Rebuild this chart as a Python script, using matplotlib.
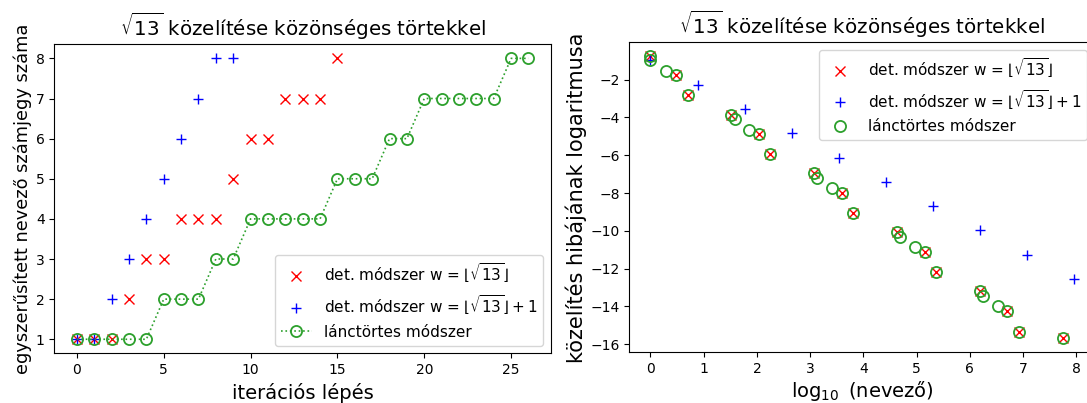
import matplotlib
matplotlib.use("Agg")
import matplotlib.pyplot as plt

# ---- left panel data: digits of simplified denominator per iteration ----
red_digits = [1, 1, 1, 2, 3, 3, 4, 4, 4, 5, 6, 6, 7, 7, 7, 8]
blue_digits = [1, 1, 2, 3, 4, 5, 6, 7, 8, 8]
green_digits = [1, 1, 1, 1, 1, 2, 2, 2, 3, 3, 4, 4, 4, 4, 4, 5, 5, 5, 6, 6,
                7, 7, 7, 7, 7, 8, 8]

# ---- right panel data: log10(denominator) vs log10(relative error) ----
red_logq = [0, 0.477, 0.699, 1.519, 2.037, 2.255, 3.075, 3.594, 3.812, 4.632,
            5.151, 5.369, 6.188, 6.707, 6.925, 7.745]
red_logerr = [-0.775, -1.771, -2.813, -3.850, -4.888, -5.926, -6.963, -8.001,
              -9.039, -10.077, -11.114, -12.152, -13.190, -14.228, -15.35, -15.68]
blue_logq = [0, 0.903, 1.785, 2.667, 3.548, 4.429, 5.310, 6.191, 7.072, 7.953]
blue_logerr = [-0.961, -2.268, -3.554, -4.840, -6.125, -7.410, -8.695, -9.980,
               -11.265, -12.550]
green_logq = [0, 0, 0.301, 0.477, 0.699, 1.519, 1.580, 1.851, 2.037, 2.255,
              3.075, 3.136, 3.408, 3.594, 3.812, 4.632, 4.693, 4.965, 5.151,
              5.369, 6.188, 6.250, 6.521, 6.707, 6.925, 7.745]
green_logerr = [-0.775, -0.961, -1.534, -1.771, -2.813, -3.850, -4.097, -4.640,
                -4.888, -5.926, -6.963, -7.211, -7.754, -8.001, -9.039, -10.077,
                -10.324, -10.867, -11.114, -12.152, -13.190, -13.437, -13.980,
                -14.228, -15.35, -15.68]

title = r"$\sqrt{13}$ közelítése közönséges törtekkel"
lab_red = r"det. módszer w = $\lfloor\sqrt{13}\rfloor$"
lab_blue = r"det. módszer w = $\lfloor\sqrt{13}\rfloor + 1$"
lab_green = "lánctörtes módszer"

fig = plt.figure(figsize=(10.87, 4.03), dpi=100)
ax1 = fig.add_axes([0.04996, 0.1233, 0.457, 0.7667])
ax2 = fig.add_axes([0.5789, 0.1258, 0.4284, 0.769])

ms = 7.5
ax1.plot(range(len(red_digits)), red_digits, 'x', color='red', ms=ms, label=lab_red)
ax1.plot(range(len(blue_digits)), blue_digits, '+', color='blue', ms=ms, label=lab_blue)
ax1.plot(range(len(green_digits)), green_digits, ':o', color='C2', ms=ms + 0.5,
         mfc='none', mew=1.3, lw=1.2, label=lab_green)
ax1.set_title(title, fontsize=14.3)
ax1.set_xlabel("iterációs lépés", fontsize=14)
ax1.set_ylabel("egyszerűsített nevező számjegy száma", fontsize=12.8, labelpad=3)
ax1.set_xticks([0, 5, 10, 15, 20, 25])
ax1.tick_params(labelsize=10)
ax1.legend(loc='lower right', fontsize=11)

ax2.plot(red_logq, red_logerr, 'x', color='red', ms=ms, label=lab_red)
ax2.plot(blue_logq, blue_logerr, '+', color='blue', ms=ms, label=lab_blue)
ax2.plot(green_logq, green_logerr, 'o', color='C2', ms=ms + 0.5, mfc='none', mew=1.3,
         label=lab_green)
ax2.set_title(title, fontsize=14.3)
ax2.set_xlabel(r"$\log_{10}$ (nevező)", fontsize=14, labelpad=2)
ax2.set_ylabel("közelítés hibájának logaritmusa", fontsize=15, labelpad=2)
ax2.set_xticks(range(0, 9))
ax2.set_yticks([-16, -14, -12, -10, -8, -6, -4, -2])
ax2.tick_params(labelsize=10)
ax2.legend(loc='upper right', fontsize=11)

fig.savefig("out.png", dpi=100)
